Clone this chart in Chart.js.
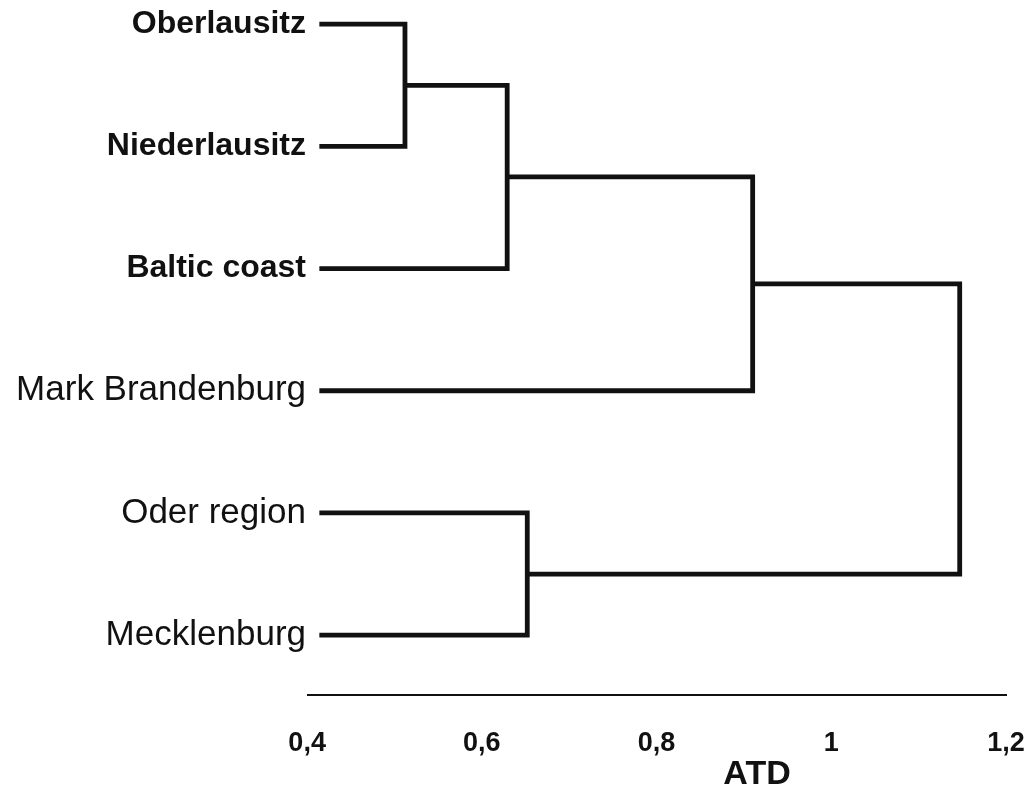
<!DOCTYPE html>
<html>
<head>
<meta charset="utf-8">
<script src="https://cdn.jsdelivr.net/npm/chart.js@4/dist/chart.umd.min.js"></script>
<style>
  html, body { margin: 0; padding: 0; background: #fff; }
  #wrap { width: 1028px; height: 791px; position: relative; }
</style>
</head>
<body>
<div id="wrap"><canvas id="dendro"></canvas></div>
<script>
// folhas do dendrograma, de cima para baixo
const regioes = ["Oberlausitz", "Niederlausitz", "Baltic coast", "Mark Brandenburg", "Oder region", "Mecklenburg"];

// fusoes: nos 0-5 sao folhas, 6.. sao os grupos criados em ordem
const fusaoA = [0, 6, 7, 4, 8];
const fusaoB = [1, 2, 3, 5, 9];
const fusaoAltura = [0.512, 0.629, 0.91, 0.652, 1.147];

const inicioFolha = 0.414;

const ticksX = [0.4, 0.6, 0.8, 1, 1.2];
const rotulosX = ["0,4", "0,6", "0,8", "1", "1,2"];
const tituloX = "ATD";
const posTituloX = 0.915;

function montarRamos() {
  // posicao (x = altura, y = linha) de cada no
  const nos = regioes.map((r, i) => ({ x: inicioFolha, y: i }));
  const ramos = [];
  fusaoAltura.forEach((h, k) => {
    const a = nos[fusaoA[k]];
    const b = nos[fusaoB[k]];
    ramos.push([
      { x: a.x, y: a.y },
      { x: h, y: a.y },
      { x: h, y: b.y },
      { x: b.x, y: b.y }
    ]);
    nos.push({ x: h, y: (a.y + b.y) / 2 });
  });
  return ramos;
}

const tituloPlugin = {
  id: "tituloAtd",
  afterDraw(chart) {
    const ctx = chart.ctx;
    const x = chart.scales.x.getPixelForValue(posTituloX);
    ctx.save();
    ctx.font = "bold 34px 'Liberation Sans', Arial, sans-serif";
    ctx.fillStyle = "#111";
    ctx.textAlign = "center";
    ctx.textBaseline = "middle";
    ctx.fillText(tituloX, x, 775);
    ctx.restore();
  }
};

const datasets = montarRamos().map(pts => ({
  data: pts,
  showLine: true,
  borderColor: "#111",
  borderWidth: 4.8,
  borderJoinStyle: "miter",
  borderCapStyle: "butt",
  pointRadius: 0,
  tension: 0
}));

new Chart(document.getElementById("dendro"), {
  type: "scatter",
  data: { datasets },
  options: {
    responsive: true,
    maintainAspectRatio: false,
    animation: false,
    layout: { padding: { top: 12, right: 22, bottom: 0, left: 0 } },
    plugins: {
      legend: { display: false },
      tooltip: { enabled: false }
    },
    scales: {
      x: {
        type: "linear",
        min: 0.401,
        max: 1.2,
        afterBuildTicks: s => { s.ticks = ticksX.map(v => ({ value: v })); },
        afterFit: s => {
          s.height = 96;
          s.paddingLeft = 0;
          s.paddingRight = 0;
        },
        grid: { display: false, drawTicks: false },
        border: { display: true, color: "#111", width: 2 },
        ticks: {
          padding: 32,
          color: "#111",
          font: { family: "'Liberation Sans', Arial, sans-serif", size: 27, weight: "bold" },
          callback: (v, i) => rotulosX[i]
        }
      },
      y: {
        type: "linear",
        reverse: true,
        min: -0.1,
        max: 5.49,
        afterBuildTicks: s => { s.ticks = regioes.map((r, i) => ({ value: i })); },
        afterFit: s => {
          s.width = 308;
          s.paddingTop = 0;
          s.paddingBottom = 0;
        },
        grid: { display: false, drawTicks: false },
        border: { display: false },
        ticks: {
          padding: 2,
          color: "#111",
          font: ctx => ctx.index < 3
            ? { family: "'Liberation Sans', Arial, sans-serif", size: 32, weight: "bold" }
            : { family: "'Liberation Sans', Arial, sans-serif", size: 35, weight: "normal" },
          callback: v => regioes[v]
        }
      }
    }
  },
  plugins: [tituloPlugin]
});
</script>
</body>
</html>
